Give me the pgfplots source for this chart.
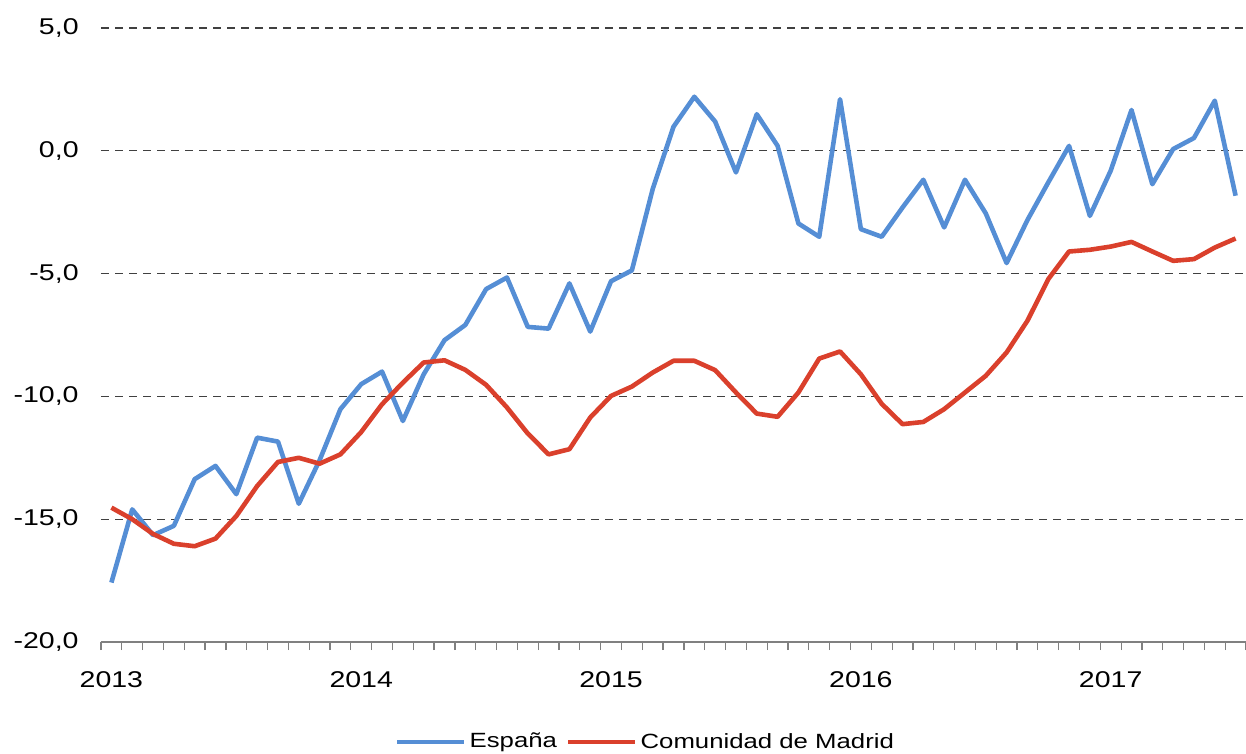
\documentclass[border=0pt]{standalone}
\usepackage{fontspec}
\setmainfont{Liberation Sans}[FakeStretch=1.25]
\usepackage{pgfplots}
\pgfplotsset{compat=1.18}
\definecolor{esp}{RGB}{85,142,213}
\definecolor{mad}{RGB}{218,64,44}
\definecolor{axgray}{RGB}{128,128,128}
\begin{document}
\begin{tikzpicture}
\begin{axis}[
  scale only axis,
  width=572.5bp, height=307bp,
  xmin=-0.5, xmax=54.5,
  ymin=-20, ymax=5,
  separate axis lines,
  axis x line*=bottom,
  axis y line*=left,
  x axis line style={-, axgray, line width=1bp},
  y axis line style={draw=none},
  ytick={-20,-15,-10,-5,0,5},
  yticklabels={{-20,0},{-15,0},{-10,0},{-5,0},{0,0},{5,0}},
  ymajorgrids,
  major grid style={black!75, dashed, line width=0.6bp, dash pattern=on 4bp off 3bp},
  xtick={0,12,24,36,48},
  xticklabels={2013,2014,2015,2016,2017},
  minor xtick={-0.5,0.5,...,54.5},
  major tick length=0pt,
  minor tick length=4bp,
  tick align=outside,
  minor tick style={axgray, line width=0.6bp},
  ytick style={draw=none},
  tick label style={font=\fontsize{11.4bp}{13bp}\selectfont},
  yticklabel style={anchor=east, inner sep=0pt, xshift=-11bp},
  xticklabel style={anchor=north, inner sep=0pt, yshift=-14.5bp},
  /pgf/number format/assume math mode=true,
  legend style={at={(0.476,-0.163)}, anchor=center, draw=none, fill=none,
    font=\fontsize{10.3bp}{12bp}\selectfont, inner sep=0pt,
    nodes={inner sep=1.5bp},
    /tikz/every even column/.append style={column sep=3bp}},
  legend columns=-1,
  legend image code/.code={\draw[#1, line width=2.3bp] (0bp,0bp) -- (33.5bp,0bp);},
  every axis plot/.append style={line width=2.3bp, line join=round},
]
\addplot[esp, mark=none] coordinates {
(0,-17.58) (1,-14.6) (2,-15.65) (3,-15.27) (4,-13.37) (5,-12.83) (6,-13.98) (7,-11.68) (8,-11.84) (9,-14.37)
(10,-12.6) (11,-10.52) (12,-9.5) (13,-8.99) (14,-11.0) (15,-9.1) (16,-7.71) (17,-7.09) (18,-5.63) (19,-5.16)
(20,-7.17) (21,-7.24) (22,-5.4) (23,-7.36) (24,-5.31) (25,-4.87) (26,-1.56) (27,0.98) (28,2.2) (29,1.19)
(30,-0.88) (31,1.49) (32,0.2) (33,-2.96) (34,-3.5) (35,2.1) (36,-3.19) (37,-3.5) (38,-2.31) (39,-1.18)
(40,-3.12) (41,-1.18) (42,-2.55) (43,-4.57) (44,-2.82) (45,-1.29) (46,0.2) (47,-2.65) (48,-0.81) (49,1.66)
(50,-1.36) (51,0.07) (52,0.52) (53,2.04) (54,-1.83)
};
\addlegendentry{España}
\addplot[mad, mark=none] coordinates {
(0,-14.53) (1,-15.0) (2,-15.6) (3,-16.0) (4,-16.1) (5,-15.79) (6,-14.87) (7,-13.65) (8,-12.67) (9,-12.5)
(10,-12.74) (11,-12.36) (12,-11.45) (13,-10.32) (14,-9.44) (15,-8.62) (16,-8.53) (17,-8.92) (18,-9.53) (19,-10.45)
(20,-11.51) (21,-12.36) (22,-12.15) (23,-10.86) (24,-9.98) (25,-9.6) (26,-9.03) (27,-8.55) (28,-8.55) (29,-8.93)
(30,-9.84) (31,-10.7) (32,-10.83) (33,-9.84) (34,-8.46) (35,-8.17) (36,-9.1) (37,-10.3) (38,-11.13) (39,-11.04)
(40,-10.52) (41,-9.84) (42,-9.16) (43,-8.21) (44,-6.92) (45,-5.23) (46,-4.1) (47,-4.03) (48,-3.9) (49,-3.71)
(50,-4.1) (51,-4.48) (52,-4.41) (53,-3.94) (54,-3.57)
};
\addlegendentry{Comunidad de Madrid}
\end{axis}
\pgfresetboundingbox
\useasboundingbox ([xshift=-50.5bp,yshift=-55.5bp]current axis.south west) rectangle ([yshift=14bp]current axis.north east);
\end{tikzpicture}
\end{document}
